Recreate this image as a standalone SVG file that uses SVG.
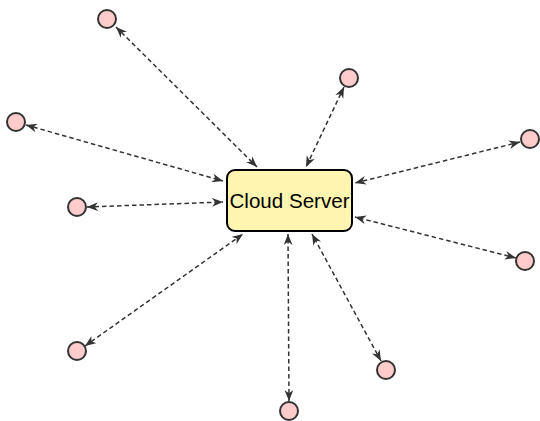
<svg xmlns="http://www.w3.org/2000/svg" width="540" height="421" viewBox="0 0 540 421">
<style>
.n circle{fill:#ffcccc;stroke:#333;stroke-width:2}
.c line{stroke:#333;stroke-width:1.5;stroke-dasharray:4.5,3;marker-start:url(#ah);marker-end:url(#ah)}
.srv rect{fill:#fff5b0;stroke:#000;stroke-width:2}
.srv text{font-family:"Liberation Sans",Arial,sans-serif;font-size:20.5px;fill:#000}
</style>
<defs>
<marker id="ah" viewBox="0 0 10 8" refX="10" refY="4" markerWidth="11" markerHeight="9" markerUnits="userSpaceOnUse" orient="auto-start-reverse">
<path d="M0,0 L10,4 L0,8 L3,4 z" fill="#333"/>
</marker>
</defs>
<g id="connectors" class="c">
<line x1="116" y1="27" x2="257" y2="167"/>
<line x1="344" y1="87" x2="306" y2="167"/>
<line x1="26" y1="125" x2="223" y2="181"/>
<line x1="520" y1="142" x2="355" y2="183"/>
<line x1="87" y1="207" x2="223" y2="202"/>
<line x1="516" y1="258" x2="355" y2="217"/>
<line x1="85" y1="346" x2="243" y2="234"/>
<line x1="381" y1="361" x2="312" y2="234"/>
<line x1="289" y1="401" x2="288" y2="234"/>
</g>
<g id="server" class="srv">
<rect x="227" y="170" width="125" height="61" rx="8"/>
<text x="289.5" y="207.5" text-anchor="middle" textLength="120" lengthAdjust="spacingAndGlyphs">Cloud Server</text>
</g>
<g id="n1" class="n"><circle cx="107" cy="19" r="9"/></g>
<g id="n2" class="n"><circle cx="349" cy="78" r="9"/></g>
<g id="n3" class="n"><circle cx="16" cy="122" r="9"/></g>
<g id="n4" class="n"><circle cx="530" cy="139" r="9"/></g>
<g id="n5" class="n"><circle cx="77" cy="207" r="9"/></g>
<g id="n6" class="n"><circle cx="525" cy="261" r="9"/></g>
<g id="n7" class="n"><circle cx="77" cy="351" r="9"/></g>
<g id="n8" class="n"><circle cx="386" cy="370" r="9"/></g>
<g id="n9" class="n"><circle cx="289" cy="411" r="9"/></g>
</svg>
